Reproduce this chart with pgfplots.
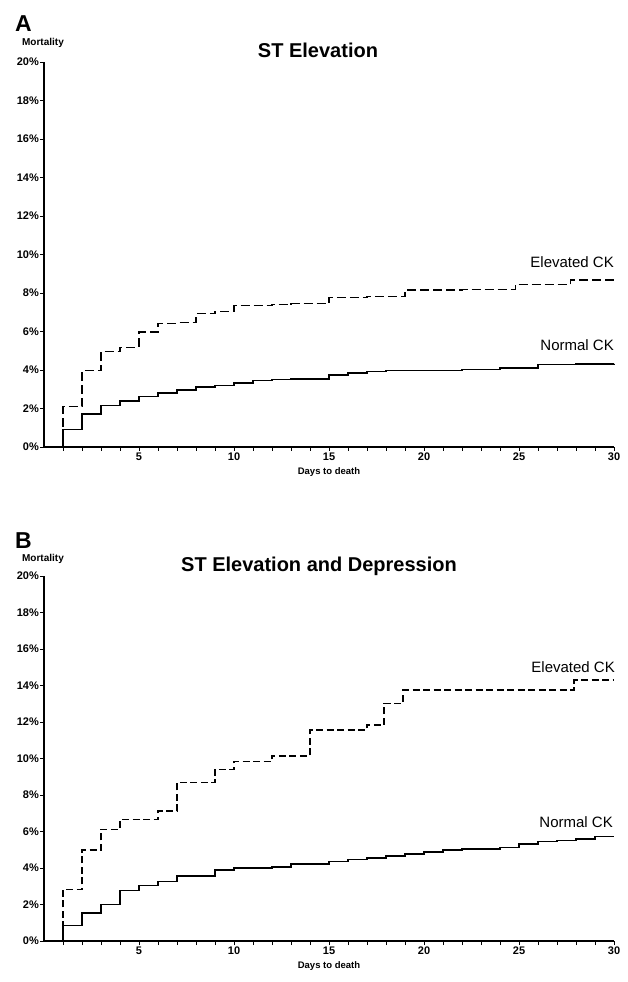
\documentclass[border=0pt]{standalone}
\usepackage{fontspec}
\setmainfont{Liberation Sans}
\usepackage{pgfplots}
\pgfplotsset{compat=1.18}
\begin{document}
\begin{tikzpicture}
\useasboundingbox (0pt,0pt) rectangle (628pt,982pt);
\pgfplotsset{
 kmstyle/.style={
  anchor=south west, scale only axis, width=570pt,
  xmin=0, xmax=30, ymin=0, ymax=20,
  axis x line*=bottom, axis y line*=left,
  axis line style={-, line width=1.2pt, black},
  xtick={5,10,15,20,25,30}, xticklabels={5,10,15,20,25,30},
  minor xtick={1,...,30},
  ytick={0,2,...,20},
  yticklabels={0\%,2\%,4\%,6\%,8\%,10\%,12\%,14\%,16\%,18\%,20\%},
  tick align=outside, major tick length=4pt, minor tick length=4pt,
  major tick style={black, line width=0.9pt},
  minor tick style={black, line width=0.9pt},
  tick label style={font=\fontsize{11}{11}\selectfont\bfseries},
  yticklabel style={inner sep=1pt},
  xticklabel style={inner sep=2pt},
  clip=false,
 },
 solidkm/.style={black, line width=1.6pt, const plot},
 dashkm/.style={black, line width=1.3pt, const plot, dash pattern=on 9pt off 4pt},
}
% ---------- Panel A ----------
\begin{axis}[kmstyle, at={(44pt,535pt)}, height=385pt]
\addplot[dashkm] coordinates {(0,0) (1,2.1) (2,3.96) (3,4.96) (4,5.17) (5,5.98) (6,6.43) (7,6.46) (8,6.92) (9,7.05) (10,7.35) (12,7.4) (13,7.45) (15,7.75) (17,7.8) (19,8.15) (22,8.17) (24.8,8.43) (27.7,8.67) (30,8.67)};
\addplot[solidkm] coordinates {(0,0) (1,0.9) (2,1.72) (3,2.15) (4,2.4) (5,2.63) (6,2.8) (7,2.95) (8,3.12) (9,3.2) (10,3.32) (11,3.45) (12,3.5) (13,3.52) (15,3.73) (16,3.85) (17,3.92) (18,3.98) (22,4.03) (24,4.1) (26,4.28) (28,4.3) (30,4.31)};
\node[font=\fontsize{9.5}{9.5}\selectfont\bfseries] at (axis description cs:0.5,0) [yshift=-25pt] {Days to death};
\end{axis}
\node[font=\fontsize{23}{23}\selectfont\bfseries] at (23.5pt,958.5pt) {A};
\node[font=\fontsize{10}{10}\selectfont\bfseries] at (43pt,939pt) {Mortality};
\node[font=\fontsize{20}{20}\selectfont\bfseries] at (318pt,932pt) {ST Elevation};
\node[font=\fontsize{15}{15}\selectfont, anchor=east, inner sep=0pt] at (614pt,720pt) {Elevated CK};
\node[font=\fontsize{15}{15}\selectfont, anchor=east, inner sep=0pt] at (614pt,637pt) {Normal CK};
% ---------- Panel B ----------
\begin{axis}[kmstyle, at={(44pt,41pt)}, height=365pt]
\addplot[dashkm, dash pattern=on 7pt off 3.5pt] coordinates {(0,0) (1,2.82) (2,4.98) (3,6.12) (4,6.65) (6,7.12) (7,8.67) (9,9.41) (10,9.83) (12,10.14) (14,11.56) (17,11.84) (17.9,13.02) (18.9,13.75) (27.9,14.3) (30,14.3)};
\addplot[solidkm] coordinates {(0,0) (1,0.85) (2,1.53) (3,2.0) (4,2.76) (5,3.04) (6,3.25) (7,3.55) (9,3.89) (10,4.0) (12,4.07) (13,4.22) (15,4.35) (16,4.47) (17,4.55) (18,4.65) (19,4.78) (20,4.88) (21,4.98) (22,5.03) (24,5.12) (25,5.3) (26,5.45) (27,5.5) (28,5.6) (29,5.73) (30,5.73)};
\node[font=\fontsize{9.5}{9.5}\selectfont\bfseries] at (axis description cs:0.5,0) [yshift=-25pt] {Days to death};
\end{axis}
\node[font=\fontsize{23}{23}\selectfont\bfseries] at (23.5pt,441pt) {B};
\node[font=\fontsize{10}{10}\selectfont\bfseries] at (43pt,423pt) {Mortality};
\node[font=\fontsize{20}{20}\selectfont\bfseries] at (319pt,416pt) {ST Elevation and Depression};
\node[font=\fontsize{15}{15}\selectfont, anchor=east, inner sep=0pt] at (615pt,315pt) {Elevated CK};
\node[font=\fontsize{15}{15}\selectfont, anchor=east, inner sep=0pt] at (613pt,160pt) {Normal CK};
\end{tikzpicture}
\end{document}
